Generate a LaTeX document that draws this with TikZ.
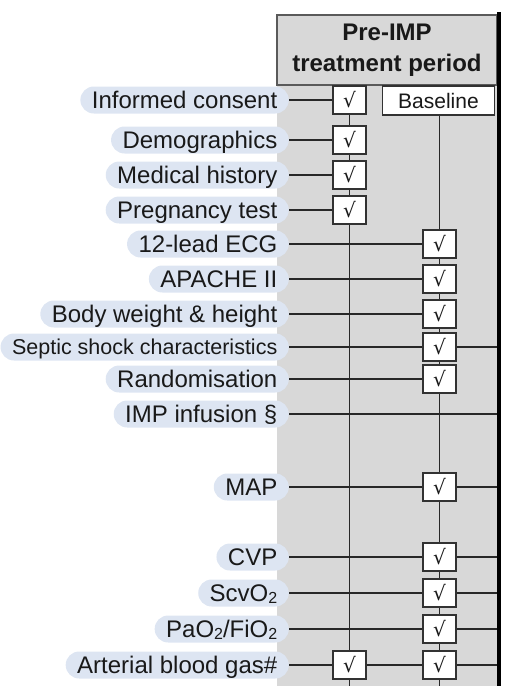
\documentclass[tikz,border=0pt]{standalone}
\usepackage{fontspec}
\setmainfont{Liberation Sans}
\newfontfamily\chkfont{DejaVu Serif}
\definecolor{graybg}{RGB}{216,216,216}
\definecolor{pillc}{RGB}{221,229,242}
\definecolor{wirec}{RGB}{40,40,40}
\definecolor{boxc}{RGB}{50,50,50}
\definecolor{hdrc}{RGB}{90,90,90}
\definecolor{txtc}{RGB}{25,25,25}
\newcommand{\lowsub}[1]{\raisebox{-2pt}{\fontsize{16}{16}\selectfont #1}}
\pgfdeclarelayer{bg}
\pgfdeclarelayer{wires}
\pgfsetlayers{bg,wires,main}
\begin{document}
\begin{tikzpicture}[x=1pt,y=-1pt,
  pill/.style={fill=pillc, rounded corners=13.5, minimum height=27, inner xsep=11.5, inner ysep=0,
    text height=17, text depth=0, anchor=east, text=txtc, font=\fontsize{24}{24}\selectfont},
  chk/.style={draw=boxc, line width=2, fill=white, minimum width=33, minimum height=28, inner sep=0,
    text=txtc, font=\chkfont\fontsize{20}{20}\selectfont},
  hdrbox/.style={draw=hdrc, line width=1.5, fill=graybg, minimum width=220, minimum height=70, inner sep=0,
    align=center, text=txtc, font=\bfseries\fontsize{24}{31}\selectfont},
  basebox/.style={draw=boxc, line width=1.5, fill=white, minimum width=112, minimum height=29, inner sep=0,
    text=txtc, font=\fontsize{21}{21}\selectfont},
  wire/.style={draw=wirec, line width=1.8},
  endbar/.style={draw=black, line width=4}]
\useasboundingbox (0,0) rectangle (505,686);
\clip (0,0) rectangle (505,686);
\begin{pgfonlayer}{bg}
  \fill[graybg] (277,15) rectangle (497,690);
\end{pgfonlayer}
\coordinate (R) at (499,0);
\coordinate (bot) at (0,700);
% header
\node[hdrbox] (hdr) at (387,50) {Pre-IMP\\treatment period};
\node[basebox] (base) at (438.5,100.5) {Baseline};
\draw[endbar] (499,12) -- (R |- bot);
% column 1 boxes
\node[chk] (ic) at (349.5,100) {√};
\node[chk] (demo) at (349.5,140) {√};
\node[chk] (med) at (349.5,175) {√};
\node[chk] (preg) at (349.5,210) {√};
\node[chk] (abga) at (349.5,665) {√};
% column 2 boxes
\node[chk] (ecg) at (439.5,244) {√};
\node[chk] (apa) at (439.5,279) {√};
\node[chk] (bw) at (439.5,314) {√};
\node[chk] (sep) at (439.5,347) {√};
\node[chk] (rnd) at (439.5,379) {√};
\node[chk] (map) at (439.5,487) {√};
\node[chk] (cvp) at (439.5,557) {√};
\node[chk] (scv) at (439.5,593) {√};
\node[chk] (pao) at (439.5,629) {√};
\node[chk] (abgb) at (439.5,665) {√};
\node[chk] (nxt) at (439.5,701) {};
% pills
\node[pill] (p1) at (289,100) {Informed consent};
\node[pill] (p2) at (289,140) {Demographics};
\node[pill] (p3) at (289,175) {Medical history};
\node[pill] (p4) at (289,210) {Pregnancy test};
\node[pill] (p5) at (289,244) {12-lead ECG};
\node[pill] (p6) at (289,279) {APACHE II};
\node[pill] (p7) at (289,314) {Body weight \& height};
\node[pill, font=\fontsize{21.5}{21.5}\selectfont, text height=15.4] (p8) at (289,347) {Septic shock characteristics};
\node[pill] (p9) at (289,379) {Randomisation};
\node[pill] (p10) at (289,414) {IMP infusion §};
\node[pill] (p11) at (289,487) {MAP};
\node[pill] (p12) at (289,557) {CVP};
\node[pill] (p13) at (289,593) {ScvO\lowsub{2}};
\node[pill] (p14) at (289,629) {PaO\lowsub{2}/FiO\lowsub{2}};
\node[pill] (p15) at (289,665) {Arterial blood gas\#};
\begin{pgfonlayer}{wires}
  % verticals
  \draw[wire] (ic.north) -- (ic |- bot);
  \draw[wire] (base.south -| ecg) -- (ecg |- bot);
  % rows
  \draw[wire] (p1.east) -- (ic.west);
  \draw[wire] (p2.east) -- (demo.west);
  \draw[wire] (p3.east) -- (med.west);
  \draw[wire] (p4.east) -- (preg.west);
  \draw[wire] (p5.east) -- (ecg.west);
  \draw[wire] (p6.east) -- (apa.west);
  \draw[wire] (p7.east) -- (bw.west);
  \draw[wire] (p8.east) -- (sep.west);
  \draw[wire] (sep.east) -- (sep -| R);
  \draw[wire] (p9.east) -- (rnd.west);
  \draw[wire] (p10.east) -- (p10 -| R);
  \draw[wire] (p11.east) -- (map.west);
  \draw[wire] (map.east) -- (map -| R);
  \draw[wire] (p12.east) -- (cvp.west);
  \draw[wire] (cvp.east) -- (cvp -| R);
  \draw[wire] (p13.east) -- (scv.west);
  \draw[wire] (scv.east) -- (scv -| R);
  \draw[wire] (p14.east) -- (pao.west);
  \draw[wire] (pao.east) -- (pao -| R);
  \draw[wire] (p15.east) -- (abga.west);
  \draw[wire] (abga.east) -- (abgb.west);
  \draw[wire] (abgb.east) -- (abgb -| R);
\end{pgfonlayer}
\end{tikzpicture}
\end{document}
